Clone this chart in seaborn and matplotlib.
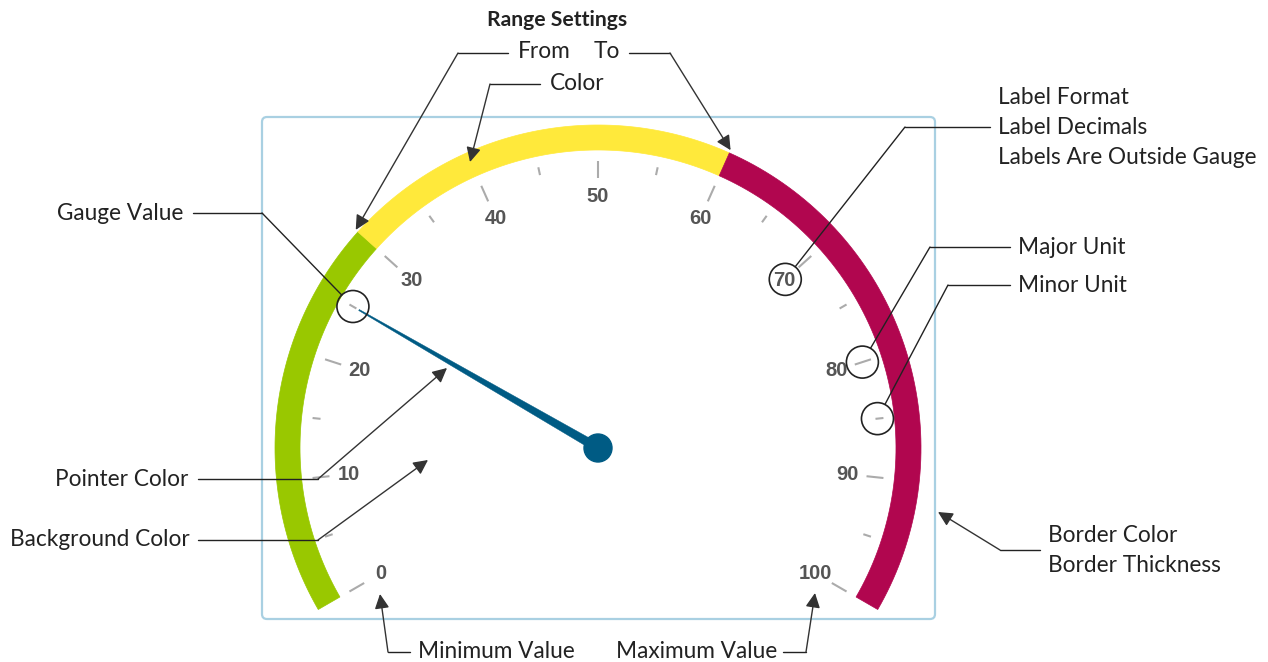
import numpy as np
import seaborn as sns
import matplotlib.pyplot as plt
from matplotlib.patches import Circle, FancyBboxPatch, Polygon

# Gauge settings
gauge_min = 0
gauge_max = 100
major_unit = 10
minor_unit = 5
gauge_value = 25
range_from = [0, 30, 60]
range_to = [30, 60, 100]
range_colors = ["#99c800", "#ffe93b", "#b1064f"]
pointer_color = "#005b84"
border_color = "#a9d0e2"

# Callout texts
label_format_lines = ["Label Format", "Label Decimals", "Labels Are Outside Gauge"]
border_lines = ["Border Color", "Border Thickness"]

sns.set_theme(style="white")
plt.rcParams['font.family'] = ['Lato', 'DejaVu Sans']

W, H = 1268, 662
fig = plt.figure(figsize=(W / 100, H / 100), dpi=100)
ax = fig.add_axes([0, 0, 1, 1])
ax.set_xlim(0, W)
ax.set_ylim(H, 0)
ax.set_aspect('equal')
ax.axis('off')

cx, cy = 598, 448
r_out, r_in = 323, 298


def ang(v):
    # 240 degree sweep, min at lower left, max at lower right
    return np.deg2rad(210 - 240 * (v - gauge_min) / (gauge_max - gauge_min))


def pt(v, r):
    a = ang(v)
    return cx + r * np.cos(a), cy - r * np.sin(a)


# border
ax.add_patch(FancyBboxPatch((262, 117), 673, 502, boxstyle="round,pad=0,rounding_size=5",
                            fc="white", ec=border_color, lw=1.6))

# range bands
for f, t, c in zip(range_from, range_to, range_colors):
    vs = np.linspace(f, t, 80)
    outer = [pt(v, r_out) for v in vs]
    inner = [pt(v, r_in) for v in vs[::-1]]
    ax.add_patch(Polygon(outer + inner, closed=True, fc=c, ec=c, lw=0.5))

# ticks
for v in np.arange(gauge_min, gauge_max + 0.1, minor_unit):
    is_major = v % major_unit == 0
    r0 = 270 if is_major else 279
    x0, y0 = pt(v, r0)
    x1, y1 = pt(v, 287)
    ax.plot([x0, x1], [y0, y1], color="#ababab", lw=1.5, solid_capstyle='butt')
    if is_major:
        lx, ly = pt(v, 251)
        ax.text(lx, ly, f"{int(v)}", ha='center', va='center', fontsize=14.5,
                fontweight='bold', color="#555555", family=['Liberation Sans'])

# pointer
a = ang(gauge_value)
tipx, tipy = pt(gauge_value, 276)
nx, ny = -np.sin(a), -np.cos(a)
hw = 4.5
ax.add_patch(Polygon([(cx + nx * hw, cy + ny * hw), (tipx + nx * 0.6, tipy + ny * 0.6),
                      (tipx - nx * 0.6, tipy - ny * 0.6), (cx - nx * hw, cy - ny * hw)],
                     closed=True, fc=pointer_color, ec=pointer_color, lw=0.3))
ax.add_patch(Circle((cx, cy), 14, fc=pointer_color, ec=pointer_color))

# highlight circles
circles = [pt(gauge_value, 283), pt(70, 252), pt(80, 278), pt(85, 281)]
for (x, y) in circles:
    ax.add_patch(Circle((x, y), 16, fc='none', ec="#222222", lw=1.2, zorder=5))

fs = 16.3
txt = dict(fontsize=fs, color="#222222", va='center')
line_kw = dict(color="#222222", lw=1.0, zorder=6)
arrow_kw = dict(arrowstyle='-|>', color="#333333", lw=1.0, mutation_scale=22,
                shrinkA=0, shrinkB=0)


def callout(hx0, hx1, hy, tx, ty, arrow=True):
    ax.plot([hx0, hx1], [hy, hy], **line_kw)
    if arrow:
        ax.annotate("", xy=(tx, ty), xytext=(hx1, hy), arrowprops=arrow_kw, zorder=6)
    else:
        ax.plot([hx1, tx], [hy, ty], **line_kw)


def edge(c, corner, r=16):
    d = np.array(corner) - np.array(c)
    d = d / np.hypot(*d)
    return c[0] + d[0] * r, c[1] + d[1] * r


# top: range settings
ax.text(557, 20, "Range Settings", ha='center', fontweight='bold', fontsize=15.2,
        color="#222222", va='center')
ax.text(518, 52, "From", ha='left', **txt)
ax.text(620, 52, "To", ha='right', **txt)
ax.text(550, 83, "Color", ha='left', **txt)
callout(508, 458, 53, *pt(range_to[0], r_out + 3))
callout(629, 670, 53, *pt(range_to[1], r_out + 3))
callout(540, 490, 84, 470, 162)

# right side
for i, s in enumerate(label_format_lines):
    ax.text(998, 97 + 30 * i, s, ha='left', **txt)
ax.text(1018, 247, "Major Unit", ha='left', **txt)
ax.text(1018, 285, "Minor Unit", ha='left', **txt)
for i, s in enumerate(border_lines):
    ax.text(1048, 536 + 29 * i, s, ha='left', **txt)
callout(990, 905, 127, *edge(circles[1], (905, 127)), arrow=False)
callout(1010, 930, 247, *edge(circles[2], (930, 247)), arrow=False)
callout(1010, 948, 285, *edge(circles[3], (948, 285)), arrow=False)
callout(1040, 1000, 550, 938, 512)

# left side
ax.text(57, 213, "Gauge Value", ha='left', **txt)
ax.text(55, 479, "Pointer Color", ha='left', **txt)
ax.text(10, 540, "Background Color", ha='left', **txt)
callout(193, 262, 213, *edge(circles[0], (262, 213)), arrow=False)
callout(198, 318, 479, 447, 368)
callout(198, 318, 540, 428, 460)

# bottom
ax.text(418, 652, "Minimum Value", ha='left', **txt)
ax.text(777, 652, "Maximum Value", ha='right', **txt)
callout(410, 388, 652, 380, 594)
callout(783, 806, 652, 815, 593)

fig.savefig("out.png", dpi=100, facecolor="white")
